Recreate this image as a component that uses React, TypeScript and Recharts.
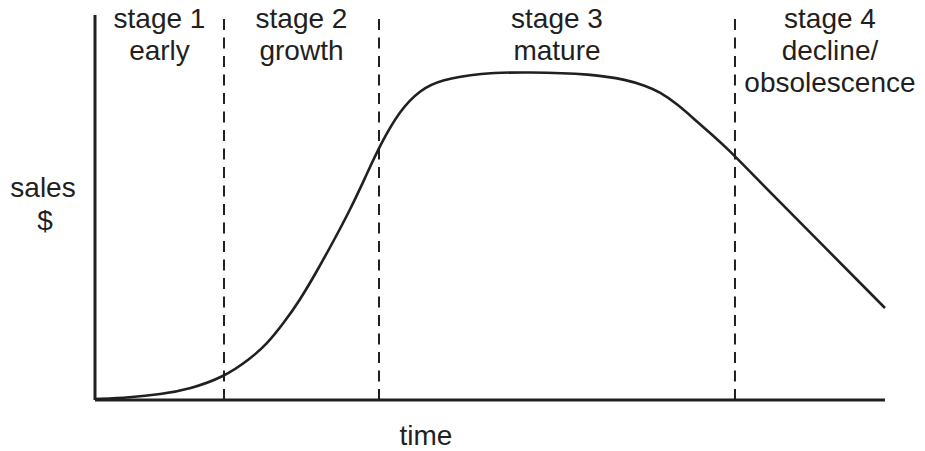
import { LineChart, Line, XAxis, YAxis, ReferenceLine, ReferenceArea } from "recharts";

// product life cycle curve, time and sales in 0..100 units
const timeValues = [0, 4.43, 8.23, 12.03, 16.33, 19.62, 21.77, 23.8, 25.95, 28.1, 30.13, 32.28, 34.18, 36.08, 38.61, 41.14, 43.67, 48.73, 54.7, 63.0, 67.34, 69.62, 71.52, 73.67, 75.7, 77.85, 80.0, 84.18, 100];
const salesValues = [0.26, 0.65, 1.43, 2.86, 5.97, 10.65, 14.55, 19.74, 25.97, 33.51, 41.04, 49.35, 57.66, 66.23, 75.32, 80.52, 83.12, 84.94, 85.2, 84.7, 83.12, 81.69, 80.0, 76.88, 73.25, 69.35, 65.45, 56.62, 23.9];

const stageBounds = [0, 16.33, 35.95, 81.01, 100];
const stageTitles = ["stage 1", "stage 2", "stage 3", "stage 4"];
const stageNotes = [["early"], ["growth"], ["mature"], ["decline/", "obsolescence"]];
const dividers = [16.33, 35.95, 81.01];

const data = timeValues.map((t, i) => ({ t, sales: salesValues[i] }));

const INK = "#231f20";
const FONT = "'Liberation Sans', Arial, Helvetica, sans-serif";

const stageLabel = (idx: number) => (props: any) => {
  const vb = props.viewBox || {};
  // stage 4 text sits right of its area centre in the original
  const cx = vb.x + vb.width / 2 + (idx === 3 ? 20 : 0);
  const lines = [stageTitles[idx], ...stageNotes[idx]];
  return (
    <text textAnchor="middle" fontFamily={FONT} fontSize={28} fill={INK}>
      {lines.map((l, i) => (
        <tspan key={i} x={cx} y={vb.y + 13 + i * 32}>{l}</tspan>
      ))}
    </text>
  );
};

const timeLabel = (props: any) => {
  const vb = props.viewBox || {};
  return (
    <text x={vb.x + 331} y={vb.y + 45} textAnchor="middle" fontFamily={FONT} fontSize={28} fill={INK}>
      time
    </text>
  );
};

const salesLabel = () => (
  <text textAnchor="middle" fontFamily={FONT} fontSize={28} fill={INK}>
    <tspan x={43} y={197}>sales</tspan>
    <tspan x={45} y={230}>$</tspan>
  </text>
);

export default function App() {
  return (
    <div style={{ position: "absolute", left: 0, top: 0, width: 925, height: 451, background: "#fff" }}>
      <LineChart width={925} height={451} data={data} margin={{ top: 15, right: 40, left: 0, bottom: 0 }}>
        <XAxis
          dataKey="t"
          type="number"
          domain={[0, 100]}
          ticks={[]}
          tick={false}
          tickLine={false}
          height={51}
          axisLine={{ stroke: INK, strokeWidth: 3 }}
          label={{ content: timeLabel }}
        />
        <YAxis
          type="number"
          domain={[0, 100]}
          ticks={[]}
          tick={false}
          tickLine={false}
          width={95}
          axisLine={{ stroke: INK, strokeWidth: 3 }}
          label={{ content: salesLabel }}
        />
        {stageTitles.map((s, i) => (
          <ReferenceArea
            key={s}
            x1={stageBounds[i]}
            x2={stageBounds[i + 1]}
            y1={0}
            y2={100}
            fill="none"
            fillOpacity={0}
            stroke="none"
            label={{ content: stageLabel(i) }}
          />
        ))}
        {dividers.map((d) => (
          <ReferenceLine key={d} x={d} stroke={INK} strokeWidth={2} strokeDasharray="11 7.5" />
        ))}
        <Line
          dataKey="sales"
          type="basis"
          stroke={INK}
          strokeWidth={2.6}
          dot={false}
          activeDot={false}
          isAnimationActive={false}
        />
      </LineChart>
    </div>
  );
}
